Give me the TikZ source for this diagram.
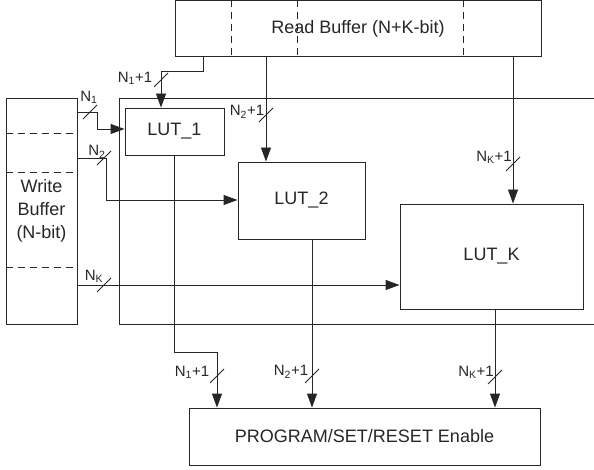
\documentclass[tikz,border=0pt]{standalone}
\usepackage{fontspec}
\setmainfont{Liberation Sans}
\usetikzlibrary{arrows.meta,calc}
\begin{document}
\begin{tikzpicture}[x=1pt,y=-1pt,line width=0.9pt,color=black!85,
  blk/.style={draw,rectangle,inner sep=0pt,font=\fontsize{18}{23}\selectfont},
  arr/.style={-{Triangle[length=14pt,width=10pt]}},
  dsh/.style={dash pattern=on 7pt off 5pt},
  lbl/.style={inner sep=0pt,font=\fontsize{15}{17}\selectfont}]
\useasboundingbox (0,0) rectangle (594,470);
% boxes
\node[blk,minimum width=366pt,minimum height=56pt] (rb) at (358,28.5) {Read Buffer (N+K-bit)};
\node[blk,minimum width=71pt,minimum height=226pt,align=center] (wb) at (41.5,211) {Write\\Buffer\\(N-bit)};
\node[blk,minimum width=99pt,minimum height=47pt] (lut1) at (174.5,131.5) {LUT\_1};
\node[blk,minimum width=127pt,minimum height=77pt] (lut2) at (301.5,200.5) {LUT\_2};
\node[blk,minimum width=183pt,minimum height=105pt] (lutk) at (491.5,256.5) {LUT\_K};
\node[blk,minimum width=351pt,minimum height=57pt] (prog) at (364.5,436.5) {PROGRAM/SET/RESET Enable};
% container
\coordinate (ctr) at (594,98);
\coordinate (cbr) at (594,324);
\draw (ctr) -- (ctr -| 119,0) -- (cbr -| 119,0) -- (cbr);
% dashed dividers
\foreach \xx in {231,297,463} \draw[dsh] (rb.north -| \xx,0) -- (rb.south -| \xx,0);
\foreach \yy in {133,172,267} \draw[dsh] (wb.west |- 0,\yy) -- (wb.east |- 0,\yy);
% read buffer outputs
\coordinate (r1) at (rb.south -| 203,0);
\coordinate (r2) at (rb.south -| 266,0);
\coordinate (rk) at (rb.south -| 513,0);
\draw[arr] (r1) -- ++(0,15) -| (lut1.north -| 161,0);
\draw[arr] (r2) -- (lut2.north -| r2);
\draw[arr] (rk) -- (lutk.north -| rk);
% write buffer outputs
\draw[arr] (wb.east |- 0,112) -| (97,129) -- (lut1.west |- 0,129);
\draw[arr] (wb.east |- 0,158) -| (106,200) -- (lut2.west |- 0,200);
\draw[arr] (wb.east |- 0,285) -- (lutk.west |- 0,285);
% LUT outputs
\draw[arr] (lut1.south) -- ++(0,352-155) -| (prog.north -| 217,0);
\draw[arr] (lut2.south -| 312,0) -- (prog.north -| 312,0);
\draw[arr] (lutk.south -| 495,0) -- (prog.north -| 495,0);
% bus slashes
\foreach \p in {(161,80),(266,115),(513,164),(90,112),(104,158),(104,285),(217,376),(312,376),(495,377)}
  \draw \p ++(-7,7) -- ++(14,-14);
% labels
\node[lbl] (l1) at (135,78) {N\textsubscript{1}+1};
\node[lbl] (l2) at (247,112) {N\textsubscript{2}+1};
\node[lbl] (l3) at (494,157) {N\textsubscript{K}+1};
\node[lbl] (l4) at (89,97) {N\textsubscript{1}};
\node[lbl] (l5) at (97,152) {N\textsubscript{2}};
\node[lbl] (l6) at (94,276) {N\textsubscript{K}};
\node[lbl] (l7) at (192,372) {N\textsubscript{1}+1};
\node[lbl] (l8) at (291,372) {N\textsubscript{2}+1};
\node[lbl] (l9) at (476,372) {N\textsubscript{K}+1};
\end{tikzpicture}
\end{document}
